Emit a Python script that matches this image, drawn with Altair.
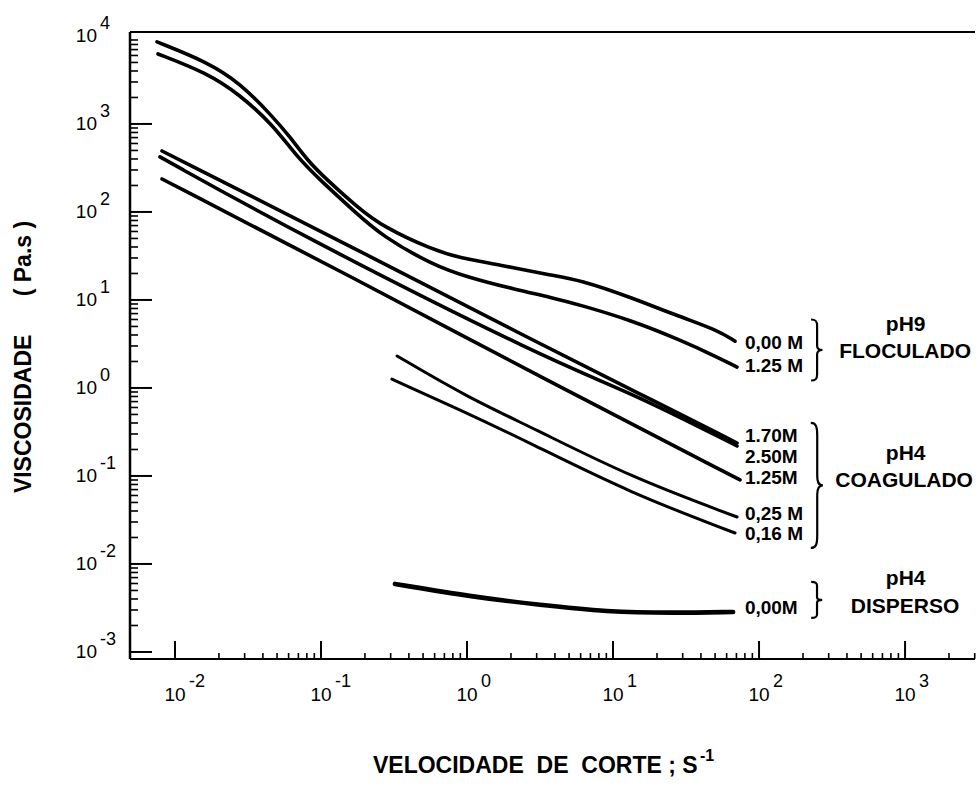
import altair as alt
import pandas as pd

# ---------------- data ----------------
# shear rate (1/s) and viscosity (Pa.s)
ph9_000_x = [0.00753, 0.01656, 0.0279, 0.0469, 0.0614, 0.0802, 0.110, 0.177, 0.266, 0.585, 0.895, 1.68, 3.70, 5.94, 13.1, 28.8, 51.5, 68.5]
ph9_000_y = [8550, 5070, 2925, 1202, 711, 390, 231, 114, 67.6, 37, 30, 25, 19.2, 16.9, 10.8, 6.41, 4.56, 3.4]

ph9_125_x = [0.00765, 0.01656, 0.0279, 0.0469, 0.0685, 0.0984, 0.1656, 0.266, 0.585, 1.0, 2.2, 3.70, 5.94, 13.1, 28.8, 51.5, 70.7]
ph9_125_y = [6240, 3800, 2136, 975, 422, 231, 105, 52, 25, 18.2, 13, 10.8, 8.77, 5.93, 3.51, 2.25, 1.73]

ph4_170_x = [0.00815, 0.158, 3.70, 13.1, 70.7]
ph4_170_y = [493, 41.1, 2.77, 0.975, 0.237]

ph4_250_x = [0.00789, 0.0718, 3.70, 13.1, 70.7]
ph4_250_y = [422, 54.8, 2.03, 0.90, 0.219]

ph4_125_x = [0.00815, 0.158, 3.70, 74.1]
ph4_125_y = [237, 18.7, 1.17, 0.0901]

ph4_025_x = [0.332, 1.0, 2.83, 13.1, 70.7]
ph4_025_y = [2.31, 0.79, 0.351, 0.0975, 0.0342]

ph4_016_x = [0.306, 1.0, 2.70, 13.1, 68.5]
ph4_016_y = [1.26, 0.52, 0.237, 0.0641, 0.0225]

ph4_disp_x = [0.321, 1.10, 3.16, 9.1, 25.8, 66.4]
ph4_disp_y = [0.00593, 0.00422, 0.00342, 0.00285, 0.00277, 0.00285]

series_labels = ["0,00 M", "1.25 M", "1.70M", "2.50M", "1.25M", "0,25 M", "0,16 M", "0,00M"]
series_label_y = [3.24, 1.78, 0.285, 0.164, 0.0949, 0.0370, 0.0219, 0.00316]
series_label_x = 80.0

group_labels = ["pH9", "FLOCULADO", "pH4", "COAGULADO", "pH4", "DISPERSO"]
group_label_y = [5.2, 2.56, 0.178, 0.0877, 0.00676, 0.00324]
group_label_x = [1010.0, 1000.0, 1010.0, 985.0, 1010.0, 1000.0]

brace_y = [2.70, 0.078, 0.0039]
brace_x = 242.0

x_major = [0.01, 0.1, 1, 10, 100, 1000]
x_exp = ["-2", "-1", "0", "1", "2", "3"]
y_major = [0.001, 0.01, 0.1, 1, 10, 100, 1000, 10000]
y_exp = ["-3", "-2", "-1", "0", "1", "2", "3", "4"]
x_minor = [m * 10.0 ** k for k in range(-2, 4) for m in range(2, 10) if m * 10.0 ** k <= 3000]
y_minor = [m * 10.0 ** k for k in range(-3, 4) for m in range(2, 10)]

NB = "\u00a0"
x_title_text = f"VELOCIDADE{NB}{NB}DE{NB}{NB}CORTE{NB};{NB}S"
x_title_exp = "-1"
y_title_text = f"VISCOSIDADE{NB * 6}({NB}Pa.s{NB})"

# ---------------- layout ----------------
W, H = 845, 627
XDOM = [0.00492, 3013]
YDOM = [0.000832, 11090]
FONT = "Liberation Sans"

series = [
    ("a", ph9_000_x, ph9_000_y, 3.6),
    ("b", ph9_125_x, ph9_125_y, 3.6),
    ("c", ph4_170_x, ph4_170_y, 3.6),
    ("d", ph4_250_x, ph4_250_y, 3.6),
    ("e", ph4_125_x, ph4_125_y, 3.6),
    ("f", ph4_025_x, ph4_025_y, 3.0),
    ("g", ph4_016_x, ph4_016_y, 3.0),
    ("h", ph4_disp_x, ph4_disp_y, 4.6),
]
rows = []
for name, xs_, ys_, w in series:
    for i, (a, b) in enumerate(zip(xs_, ys_)):
        rows.append({"s": name, "o": i, "x": a, "y": b, "w": w})
df = pd.DataFrame(rows)

xs = alt.Scale(type="log", domain=XDOM, nice=False)
ys = alt.Scale(type="log", domain=YDOM, nice=False)

lines = alt.Chart(df).mark_line(
    color="black", strokeCap="round", strokeJoin="round", interpolate="basis"
).encode(
    x=alt.X("x:Q", scale=xs, axis=None),
    y=alt.Y("y:Q", scale=ys, axis=None),
    detail="s:N",
    order="o:Q",
    strokeWidth=alt.StrokeWidth("w:Q", scale=None),
)

one = pd.DataFrame({"a": [0]})
frame_left = alt.Chart(one).mark_rule(color="black", strokeWidth=2.5).encode(
    x=alt.value(0), y=alt.value(0), y2=alt.value(H))
frame_bottom = alt.Chart(one).mark_rule(color="black", strokeWidth=2).encode(
    x=alt.value(0), x2=alt.value(W), y=alt.value(H))
frame_top = alt.Chart(one).mark_rule(color="black", strokeWidth=2).encode(
    x=alt.value(0), x2=alt.value(W), y=alt.value(0))

xmaj = alt.Chart(pd.DataFrame({"v": x_major})).mark_rule(color="black", strokeWidth=2).encode(
    x=alt.X("v:Q", scale=xs, axis=None), y=alt.value(H), y2=alt.value(H - 18))
xmin = alt.Chart(pd.DataFrame({"v": x_minor})).mark_rule(color="black", strokeWidth=1.6).encode(
    x=alt.X("v:Q", scale=xs, axis=None), y=alt.value(H), y2=alt.value(H - 6))
ymaj = alt.Chart(pd.DataFrame({"v": y_major[:-1]})).mark_rule(color="black", strokeWidth=2).encode(
    y=alt.Y("v:Q", scale=ys, axis=None), x=alt.value(0), x2=alt.value(22))
ymin = alt.Chart(pd.DataFrame({"v": y_minor})).mark_rule(color="black", strokeWidth=1.6).encode(
    y=alt.Y("v:Q", scale=ys, axis=None), x=alt.value(0), x2=alt.value(8))

xlab_df = pd.DataFrame({"v": x_major, "e": x_exp})
xlab_base = alt.Chart(xlab_df).mark_text(
    font=FONT, fontSize=19, align="center", baseline="middle", color="black"
).encode(x=alt.X("v:Q", scale=xs, axis=None), y=alt.value(H + 36), text=alt.value("10"))
xlab_exp = alt.Chart(xlab_df).mark_text(
    font=FONT, fontSize=18, align="left", baseline="middle", dx=14, color="black"
).encode(x=alt.X("v:Q", scale=xs, axis=None), y=alt.value(H + 23), text="e:N")

ylab_df = pd.DataFrame({"v": y_major, "e": y_exp})
ylab_base = alt.Chart(ylab_df).mark_text(
    font=FONT, fontSize=19, align="right", baseline="middle", color="black"
).encode(y=alt.Y("v:Q", scale=ys, axis=None), x=alt.value(-33), text=alt.value("10"))
ylab_exp = alt.Chart(ylab_df).mark_text(
    font=FONT, fontSize=18, align="left", baseline="middle", dy=-12, color="black"
).encode(y=alt.Y("v:Q", scale=ys, axis=None), x=alt.value(-30), text="e:N")

x_title = alt.Chart(one).mark_text(
    font=FONT, fontSize=23, fontWeight="bold", align="left", baseline="middle", color="black"
).encode(x=alt.value(243), y=alt.value(H + 107), text=alt.value(x_title_text))
x_title_sup = alt.Chart(one).mark_text(
    font=FONT, fontSize=16, fontWeight="bold", align="left", baseline="middle", color="black"
).encode(x=alt.value(570), y=alt.value(H + 97), text=alt.value(x_title_exp))
y_title = alt.Chart(one).mark_text(
    font=FONT, fontSize=23, fontWeight="bold", align="center", baseline="middle", angle=270, color="black"
).encode(x=alt.value(-106), y=alt.value(325), text=alt.value(y_title_text))

sl_df = pd.DataFrame({"t": series_labels, "y": series_label_y, "x": [series_label_x] * len(series_labels)})
series_text = alt.Chart(sl_df).mark_text(
    font=FONT, fontSize=19, fontWeight="bold", align="left", baseline="middle", color="black"
).encode(x=alt.X("x:Q", scale=xs, axis=None), y=alt.Y("y:Q", scale=ys, axis=None), text="t:N")

gl_df = pd.DataFrame({"t": group_labels, "y": group_label_y, "x": group_label_x})
group_text = alt.Chart(gl_df).mark_text(
    font=FONT, fontSize=21, fontWeight="bold", align="center", baseline="middle", color="black"
).encode(x=alt.X("x:Q", scale=xs, axis=None), y=alt.Y("y:Q", scale=ys, axis=None), text="t:N")


def brace_path(k):
    p = [(-0.12, -1), (0.02, -1), (0.06, -0.95), (0.06, -0.8), (0.06, -0.15), (0.06, -0.05),
         (0.10, 0), (0.22, 0), (0.10, 0), (0.06, 0.05), (0.06, 0.15), (0.06, 0.8), (0.06, 0.95),
         (0.02, 1), (-0.12, 1)]
    q = [(round(a * k, 4), b) for a, b in p]
    f = lambda t: f"{t[0]} {t[1]}"
    return (f"M {f(q[0])} C {f(q[1])} {f(q[2])} {f(q[3])} L {f(q[4])} "
            f"C {f(q[5])} {f(q[6])} {f(q[7])} C {f(q[8])} {f(q[9])} {f(q[10])} "
            f"L {f(q[11])} C {f(q[12])} {f(q[13])} {f(q[14])}")


brace_specs = [(1.1, 61), (0.57, 125), (1.8, 36)]
braces = []
for (k, hgt), by in zip(brace_specs, brace_y):
    braces.append(
        alt.Chart(pd.DataFrame({"x": [brace_x], "y": [by]})).mark_point(
            shape=brace_path(k), size=hgt * hgt, filled=False, color="black",
            strokeWidth=2.2, opacity=1
        ).encode(x=alt.X("x:Q", scale=xs, axis=None), y=alt.Y("y:Q", scale=ys, axis=None))
    )

chart = alt.layer(
    frame_left, frame_bottom, frame_top, xmaj, xmin, ymaj, ymin,
    lines, xlab_base, xlab_exp, ylab_base, ylab_exp, x_title, x_title_sup, y_title,
    series_text, group_text, *braces
).properties(
    width=W, height=H,
    padding={"left": 130, "top": 32, "right": 4, "bottom": 127},
    autosize="none",
    background="white",
).configure_view(stroke=None)

chart.save("out.html", embed_options={"renderer": "svg", "actions": False})
